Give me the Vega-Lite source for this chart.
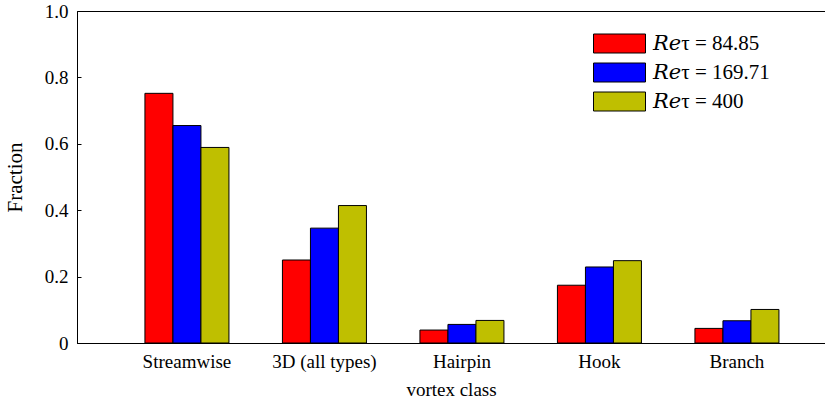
{
  "$schema": "https://vega.github.io/schema/vega-lite/v6.json",
  "width": 748,
  "height": 332,
  "autosize": {"type": "none"},
  "padding": {"left": 77, "top": 11, "right": 0, "bottom": 59},
  "background": "white",
  "view": {"stroke": "black", "strokeWidth": 1},
  "config": {
    "font": "Liberation Serif",
    "axis": {"labelFont": "Liberation Serif", "titleFont": "Liberation Serif"},
    "legend": {"labelFont": "Liberation Serif, DejaVu Serif, serif", "titleFont": "Liberation Serif"}
  },
  "data": {
    "values": [
      {"cls": "Streamwise", "re": "𝑅𝑒τ = 84.85", "v": 0.752},
      {"cls": "Streamwise", "re": "𝑅𝑒τ = 169.71", "v": 0.655},
      {"cls": "Streamwise", "re": "𝑅𝑒τ = 400", "v": 0.589},
      {"cls": "3D (all types)", "re": "𝑅𝑒τ = 84.85", "v": 0.25},
      {"cls": "3D (all types)", "re": "𝑅𝑒τ = 169.71", "v": 0.346},
      {"cls": "3D (all types)", "re": "𝑅𝑒τ = 400", "v": 0.414},
      {"cls": "Hairpin", "re": "𝑅𝑒τ = 84.85", "v": 0.039},
      {"cls": "Hairpin", "re": "𝑅𝑒τ = 169.71", "v": 0.056},
      {"cls": "Hairpin", "re": "𝑅𝑒τ = 400", "v": 0.068},
      {"cls": "Hook", "re": "𝑅𝑒τ = 84.85", "v": 0.174},
      {"cls": "Hook", "re": "𝑅𝑒τ = 169.71", "v": 0.229},
      {"cls": "Hook", "re": "𝑅𝑒τ = 400", "v": 0.248},
      {"cls": "Branch", "re": "𝑅𝑒τ = 84.85", "v": 0.044},
      {"cls": "Branch", "re": "𝑅𝑒τ = 169.71", "v": 0.067},
      {"cls": "Branch", "re": "𝑅𝑒τ = 400", "v": 0.101}
    ]
  },
  "mark": {"type": "bar", "stroke": "black", "strokeWidth": 1},
  "encoding": {
    "x": {
      "field": "cls",
      "type": "nominal",
      "sort": ["Streamwise", "3D (all types)", "Hairpin", "Hook", "Branch"],
      "scale": {"paddingInner": 0.389, "paddingOuter": 0.4145, "align": 0.596},
      "axis": {
        "title": "vortex class",
        "titleFont": "Liberation Serif",
        "titleFontSize": 19,
        "titleFontWeight": "normal",
        "titleColor": "black",
        "titlePadding": 9,
        "labelAngle": 0,
        "labelFont": "Liberation Serif",
        "labelFontSize": 19,
        "labelColor": "black",
        "labelPadding": 9,
        "ticks": false,
        "domainColor": "black"
      }
    },
    "xOffset": {
      "field": "re",
      "type": "nominal",
      "sort": ["𝑅𝑒τ = 84.85", "𝑅𝑒τ = 169.71", "𝑅𝑒τ = 400"],
      "scale": {"paddingInner": 0, "paddingOuter": 0}
    },
    "y": {
      "field": "v",
      "type": "quantitative",
      "scale": {"domain": [0, 1], "nice": false},
      "axis": {
        "title": "Fraction",
        "titleFont": "Liberation Serif",
        "titleFontSize": 21,
        "titleFontWeight": "normal",
        "titleColor": "black",
        "titlePadding": 19,
        "values": [0, 0.2, 0.4, 0.6, 0.8, 1.0],
        "labelExpr": "datum.value == 0 ? '0' : format(datum.value, '.1f')",
        "labelFont": "Liberation Serif",
        "labelFontSize": 19,
        "labelColor": "black",
        "tickSize": -4,
        "tickColor": "black",
        "labelPadding": 13,
        "grid": false,
        "domainColor": "black"
      }
    },
    "fill": {
      "field": "re",
      "type": "nominal",
      "sort": ["𝑅𝑒τ = 84.85", "𝑅𝑒τ = 169.71", "𝑅𝑒τ = 400"],
      "scale": {"range": ["#ff0000", "#0000ff", "#bfbf00"]},
      "legend": {
        "title": null,
        "orient": "none",
        "legendX": 532,
        "legendY": 22,
        "symbolType": "M-2.6,-0.95H2.6V0.95H-2.6Z",
        "symbolSize": 400,
        "symbolStrokeColor": "black",
        "symbolStrokeWidth": 1,
        "labelFontSize": 21,
        "labelColor": "black",
        "labelOffset": 23,
        "rowPadding": 6,
        "labelLimit": 300
      }
    }
  }
}
